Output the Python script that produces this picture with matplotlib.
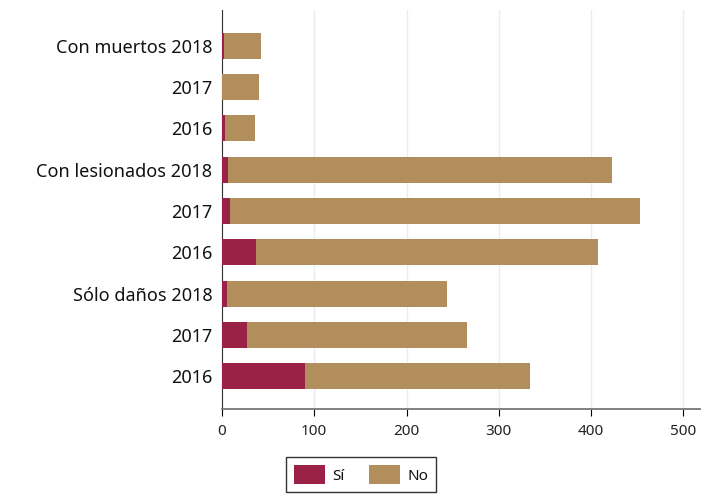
import numpy as np
import matplotlib.pyplot as plt

# categories from top to bottom
labels = ["Con muertos 2018", "2017", "2016",
          "Con lesionados 2018", "2017", "2016",
          "Sólo daños 2018", "2017", "2016"]
si = [2, 0, 3, 6, 9, 37, 5, 27, 90]
no = [40, 40, 33, 417, 444, 371, 239, 238, 244]

plt.rcParams['font.family'] = ['Noto Sans', 'DejaVu Sans']

fig = plt.figure(figsize=(7.15, 4.96), dpi=100)
ax = fig.add_axes([0.3105, 0.175, 0.6685, 0.805])

y = np.arange(len(labels))[::-1]
ax.barh(y, si, height=0.63, color='#9b2247', label='Sí', zorder=3)
ax.barh(y, no, left=si, height=0.63, color='#b38e5d', label='No', zorder=3)

ax.set_yticks(y)
ax.set_yticklabels(labels, fontsize=13, color='#111111')
ax.set_ylim(-0.8, 8.87)
ax.set_xlim(0, 518)
ax.set_xticks([0, 100, 200, 300, 400, 500])
ax.tick_params(axis='x', labelsize=11, length=5, pad=6, color='black', labelcolor='#222222')
ax.tick_params(axis='y', length=0, pad=7)

ax.grid(axis='x', color='#e6eef3', linewidth=1, zorder=0)
for s in ['top', 'right']:
    ax.spines[s].set_visible(False)
ax.spines['left'].set_color('#333333')
ax.spines['bottom'].set_color('#777777')
ax.spines['bottom'].set_linewidth(1.3)

leg = fig.legend(loc='lower center', bbox_to_anchor=(0.505, 0.008), ncol=2, frameon=True,
                 fancybox=False, edgecolor='black', fontsize=11, handlelength=2.0,
                 handleheight=1.6, columnspacing=1.6, handletextpad=0.5,
                 borderaxespad=0, borderpad=0.5)
for t in leg.get_texts():
    t.set_color('#111111')

fig.savefig('out.png', dpi=100)
